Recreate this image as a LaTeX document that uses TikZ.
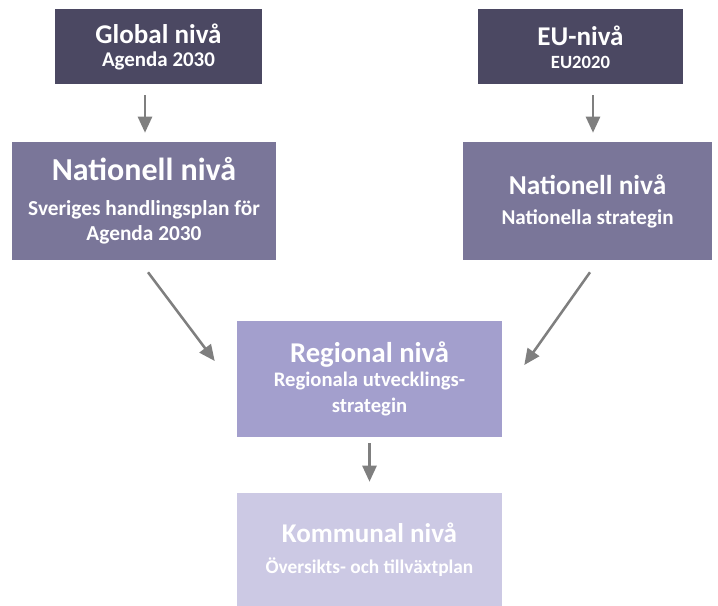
\documentclass[tikz,border=0pt]{standalone}
\usepackage{fontspec}
\setmainfont{Carlito}
\usetikzlibrary{arrows.meta}
\definecolor{toplevel}{HTML}{4B4862}
\definecolor{natlevel}{HTML}{7A7699}
\definecolor{reglevel}{HTML}{A39FCD}
\definecolor{komlevel}{HTML}{CCC9E4}
\definecolor{arrgray}{HTML}{7F7F7F}
\newcommand{\ttl}[1]{\fontsize{#1}{19}\selectfont\bfseries}
\newcommand{\sub}[1]{\fontsize{#1}{19}\selectfont\bfseries}
\begin{document}
\begin{tikzpicture}[x=0.75pt, y=-0.75pt,
  level/.style={rectangle, inner sep=0pt, text=white, align=center, font=\fontsize{15}{19}\selectfont},
  arr/.style={draw=arrgray, line width=1.9pt, -{Triangle[length=12pt,width=10.5pt]}}]
            \useasboundingbox (0,0) rectangle (718,606);
            \node[level, fill=toplevel, minimum width=155.25pt, minimum height=56.25pt] (global) at (158.5,47) {{\ttl{20.3}Global nivå}\\[-1.5pt]{\sub{15.7}Agenda 2030}};
            \node[level, fill=toplevel, minimum width=153.75pt, minimum height=56.25pt] (eu) at (580.5,47) {{\ttl{20.3}EU-nivå}\\[-1.5pt]{\sub{14}EU2020}};
            \node[level, fill=natlevel, minimum width=198pt, minimum height=88.5pt] (natleft) at (144,201) {{\ttl{24}Nationell nivå}\\[7pt]{\sub{16}Sveriges handlingsplan för}\\{\sub{16}Agenda 2030}};
            \node[level, fill=natlevel, minimum width=186.75pt, minimum height=88.5pt] (natright) at (587.5,201) {{\ttl{20.5}Nationell nivå}\\[3.5pt]{\sub{15.8}Nationella strategin}};
            \node[level, fill=reglevel, minimum width=198.75pt, minimum height=87pt] (regional) at (369.5,379) {{\ttl{21.5}Regional nivå}\\[-1pt]{\sub{15.5}Regionala utvecklings-}\\[1pt]{\sub{15.5}strategin}};
            \node[level, fill=komlevel, minimum width=198.75pt, minimum height=84.75pt] (kommunal) at (369.5,549.5) {{\ttl{20.3}Kommunal nivå}\\[4pt]{\sub{14.5}Översikts- och tillväxtplan}};
            \draw[arr] ([shift={(-13.5,10.5)}]global.south) -- ([shift={(1,-9)}]natleft.north);
            \draw[arr] ([shift={(12.5,10.5)}]eu.south) -- ([shift={(5.5,-9)}]natright.north);
            \draw[arr] ([shift={(4,12)}]natleft.south) -- ([shift={(-22,-18)}]regional.west);
            \draw[arr] ([shift={(2.5,12)}]natright.south) -- ([shift={(22,-14)}]regional.east);
            \draw[arr] ([shift={(0,6)}]regional.south) -- ([shift={(0,-11)}]kommunal.north);
\end{tikzpicture}
\end{document}
